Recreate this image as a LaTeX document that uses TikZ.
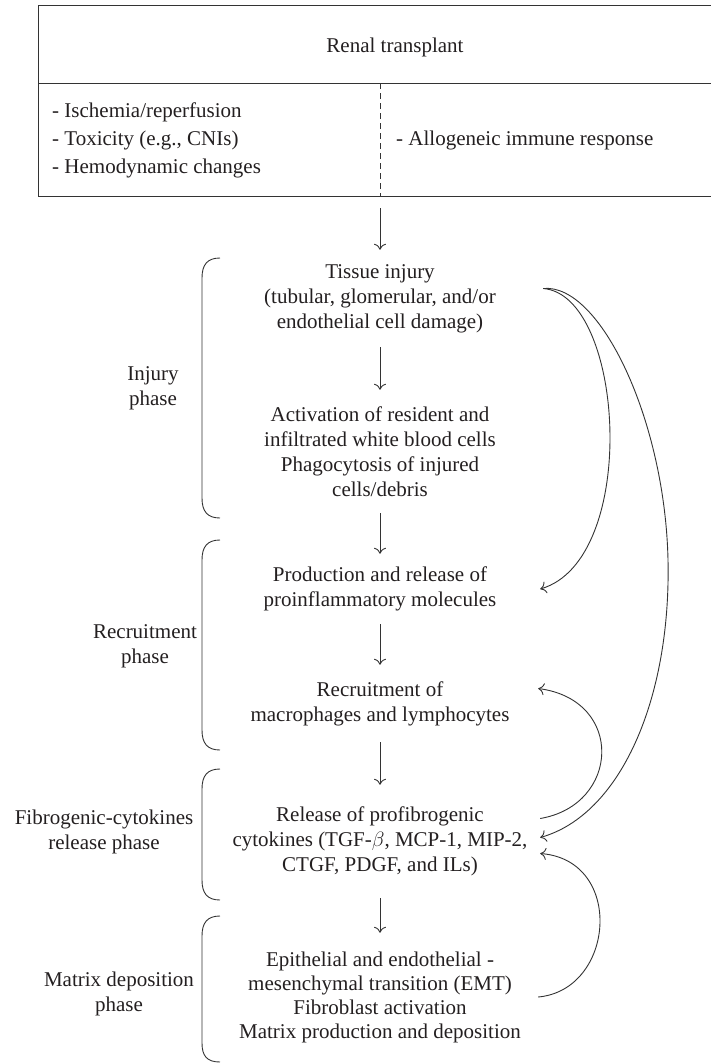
\documentclass[tikz,border=0pt]{standalone}
\usepackage{fontspec}
\setmainfont{Liberation Serif}
\usetikzlibrary{arrows.meta,calc}
\definecolor{linec}{HTML}{333333}
\definecolor{textc}{HTML}{231F20}
\begin{document}
\begin{tikzpicture}[x=1pt,y=-1pt,
  every node/.style={text=textc, font=\fontsize{21}{25}\selectfont},
  arr/.style={draw=linec, line width=0.9pt, -{To[length=6pt,width=12pt]}},
  curvearr/.style={draw=linec, line width=0.9pt, -{To[length=6pt,width=12pt]}},
  block/.style={align=center, inner sep=0pt, minimum width=320pt},
  phase/.style={align=center, inner sep=0pt},
  brace/.style={draw=linec, line width=0.9pt},
  boxline/.style={draw=linec, line width=0.9pt}
]
\useasboundingbox (0,0) rectangle (710,1063);

% top box
\node[boxline, draw, minimum width=684pt, minimum height=191pt, inner sep=0pt] (box) at (380,100.5) {};
\draw[boxline] (38,83) -- (722,83);
\coordinate (divtop) at (380,83);
\draw[boxline, dash pattern=on 6pt off 4pt] (divtop) -- (box.south);
\node (renal) at (395,47) {Renal transplant};
\node[align=left, anchor=west, inner sep=0pt, font=\fontsize{21}{28}\selectfont] (causes) at (52,140)
  {- Ischemia/reperfusion\\- Toxicity (e.g., CNIs)\\- Hemodynamic changes};
\node[anchor=west, inner sep=0pt] (allo) at (396,140) {- Allogeneic immune response};

% main blocks
\node[block, minimum height=97pt] (tissue) at (380,298.5)
  {Tissue injury\\(tubular, glomerular, and/or\\endothelial cell damage)};
\node[block, minimum height=123pt] (act) at (380,451.5)
  {Activation of resident and\\infiltrated white blood cells\\Phagocytosis of injured\\cells/debris};
\node[block, minimum height=70pt] (prod) at (380,589)
  {Production and release of\\proinflammatory molecules};
\node[block, minimum height=77pt] (recr) at (380,703.5)
  {Recruitment of\\macrophages and lymphocytes};
\node[block, minimum height=113pt] (rel) at (380,841.5)
  {Release of profibrogenic\\cytokines (TGF-$\beta$, MCP-1, MIP-2,\\CTGF, PDGF, and ILs)};
\node[block, minimum height=128pt, font=\fontsize{21}{24}\selectfont] (emt) at (380,997)
  {Epithelial and endothelial -\\mesenchymal transition (EMT)\\Fibroblast activation\\Matrix production and deposition};

% straight arrows
\draw[arr] ([yshift=-12pt]box.south) -- (tissue.north);
\draw[arr] (tissue.south) -- (act.north);
\draw[arr] (act.south) -- (prod.north);
\draw[arr] (prod.south) -- (recr.north);
\draw[arr] (recr.south) -- (rel.north);
\draw[arr] (rel.south) -- (emt.north);

% feedback curves
\draw[curvearr] ([yshift=10pt,xshift=3pt]tissue.east) .. controls (625,295) and (640,560) .. (prod.east);
\draw[curvearr] ([yshift=10pt,xshift=3pt]tissue.east) .. controls (600,283) and (665,420) .. (668,560)
  .. controls (671,700) and (620,815) .. ([yshift=4pt]rel.east);
\draw[curvearr] ([yshift=23pt]rel.east) .. controls (620,805) and (625,700) .. ([yshift=15pt,xshift=-2pt]recr.east);
\draw[curvearr] ([xshift=-2pt]emt.east) .. controls (615,990) and (625,860) .. ([yshift=-12pt]rel.east);

% phase braces
\draw[brace] (220,258) .. controls (207,258) and (202,265) .. (202,278) -- (202,498) .. controls (202,511) and (207,518) .. (220,518);
\draw[brace] (220,540) .. controls (207,540) and (202,547) .. (202,560) -- (202,730) .. controls (202,743) and (207,750) .. (220,750);
\draw[brace] (220,769) .. controls (207,769) and (202,776) .. (202,789) -- (202,880) .. controls (202,893) and (207,900) .. (220,900);
\draw[brace] (220,916) .. controls (207,916) and (202,923) .. (202,936) -- (202,1043) .. controls (202,1056) and (207,1062) .. (220,1062);

% phase labels
\node[phase] (injury) at (153,388.5) {Injury\\phase};
\node[phase] (recruit) at (145,646) {Recruitment\\phase};
\node[phase] (fibro) at (104,832) {Fibrogenic-cytokines\\release phase};
\node[phase] (matrix) at (119,994) {Matrix deposition\\phase};
\end{tikzpicture}
\end{document}
